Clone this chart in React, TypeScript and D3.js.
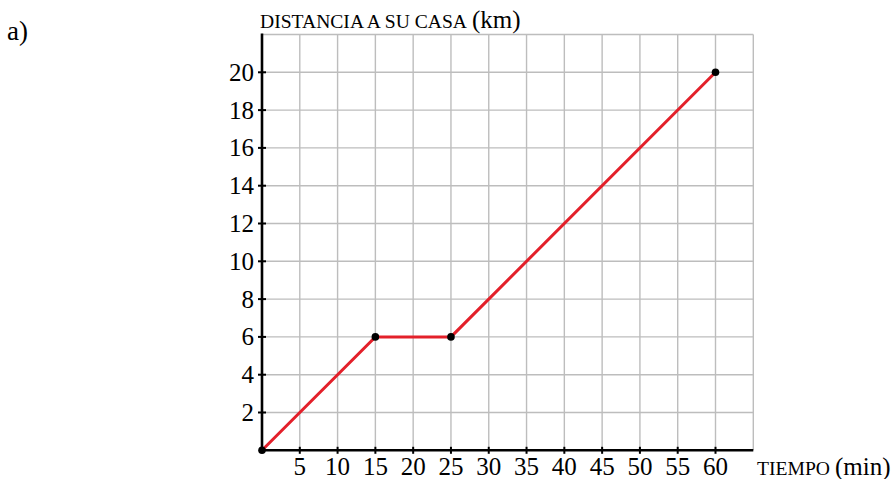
import React from "react";
import * as d3 from "d3";

const times = [0, 15, 25, 60];
const distances = [0, 6, 6, 20];
const xTicks = [5, 10, 15, 20, 25, 30, 35, 40, 45, 50, 55, 60];
const yTicks = [2, 4, 6, 8, 10, 12, 14, 16, 18, 20];
const xGrid = [5, 10, 15, 20, 25, 30, 35, 40, 45, 50, 55, 60, 65];
const yGrid = [2, 4, 6, 8, 10, 12, 14, 16, 18, 20, 22];

export default function App() {
  const W = 894, H = 479;
  const x = d3.scaleLinear().domain([0, 60]).range([262, 715.5]);
  const y = d3.scaleLinear().domain([0, 20]).range([450.3, 72.3]);
  const line = d3.line<number>().x((_, i) => x(times[i])).y((d) => y(d));
  const font = "'Liberation Serif', 'DejaVu Serif', serif";
  const x0 = x(0), y0 = y(0), xMax = x(65), yMax = y(22);
  return (
    <svg width={W} height={H} style={{ position: "absolute", left: 0, top: 0, background: "#fff", fontFamily: font }}>
      <text x={7} y={40} fontSize={27} fill="#000">a)</text>
      {xGrid.map((v) => (
        <line key={"gx" + v} x1={x(v)} x2={x(v)} y1={y0} y2={yMax} stroke="#bdbdbd" strokeWidth={1.4} />
      ))}
      {yGrid.map((v) => (
        <line key={"gy" + v} x1={x0} x2={xMax} y1={y(v)} y2={y(v)} stroke="#bdbdbd" strokeWidth={1.4} />
      ))}
      <line x1={x0} x2={xMax} y1={y0} y2={y0} stroke="#000" strokeWidth={2.6} />
      <line x1={x0} x2={x0} y1={y0} y2={yMax - 1} stroke="#000" strokeWidth={2.6} />
      {xTicks.map((v) => (
        <g key={"xt" + v}>
          <line x1={x(v)} x2={x(v)} y1={y0 - 3.5} y2={y0 + 3.5} stroke="#000" strokeWidth={2} />
          <text x={x(v)} y={475} fontSize={25} textAnchor="middle" fill="#000">{v}</text>
        </g>
      ))}
      {yTicks.map((v) => (
        <g key={"yt" + v}>
          <line x1={x0 - 4} x2={x0 + 4} y1={y(v)} y2={y(v)} stroke="#000" strokeWidth={2} />
          <text x={x0 - 8} y={y(v) + 8.5} fontSize={25} textAnchor="end" fill="#000">{v}</text>
        </g>
      ))}
      <path d={line(distances) || ""} fill="none" stroke="#e3202a" strokeWidth={3} />
      {times.map((t, i) => (
        <circle key={"p" + i} cx={x(t)} cy={y(distances[i])} r={3.8} fill="#000" />
      ))}
      <text x={260} y={28} fill="#000">
        <tspan fontSize={19} textLength={207} lengthAdjust="spacingAndGlyphs">DISTANCIA A SU CASA</tspan>
        <tspan fontSize={25} dx={5}>(km)</tspan>
      </text>
      <text x={757} y={475} fill="#000">
        <tspan fontSize={19} textLength={73} lengthAdjust="spacingAndGlyphs">TIEMPO</tspan>
        <tspan fontSize={25} dx={5}>(min)</tspan>
      </text>
    </svg>
  );
}
